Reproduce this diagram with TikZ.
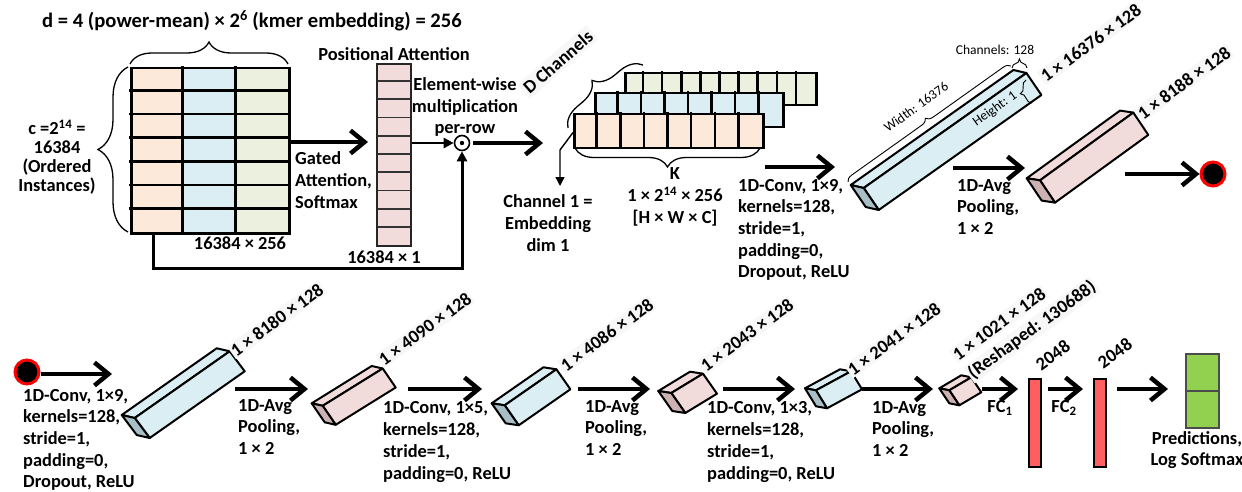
\documentclass[tikz,border=0pt]{standalone}
\usepackage{fontspec}
\setmainfont{Carlito}
\usetikzlibrary{arrows.meta,decorations.pathreplacing,calc}
\definecolor{corange}{HTML}{FDE9D9}
\definecolor{cblue}{HTML}{DAEEF3}
\definecolor{cgreen}{HTML}{EBF1DE}
\definecolor{cpink}{HTML}{F2DCDB}
\definecolor{cblueend}{HTML}{A9BFC7}
\definecolor{cpinkend}{HTML}{CDB2B2}
\definecolor{cred}{HTML}{FF5F5F}
\definecolor{cout}{HTML}{92D050}
\tikzset{
 lab/.style={font=\fontsize{18.4}{21.7}\selectfont\bfseries, inner sep=0pt, align=left},
 clab/.style={font=\fontsize{18.4}{21.7}\selectfont\bfseries, inner sep=0pt, align=center},
 dim/.style={font=\fontsize{18.4}{21}\selectfont\bfseries, rotate=36, anchor=base west, inner sep=1.5pt, fill=black!3},
 small/.style={font=\fontsize{13.5}{15}\selectfont, inner sep=0pt},
 bigarrow/.style={line width=4.5pt, -{Straight Barb[length=14pt,width=23pt]}},
 thinarrow/.style={line width=2.5pt, -{Triangle[length=10pt,width=10pt]}},
 cub/.style={line width=2pt, line join=round, draw=black},
 grid/.style={line width=2.5pt, line cap=rect},
 brc/.style={decorate, line width=1.3pt},
 redbar/.style={fill=cred, draw=black, line width=2pt, minimum width=12pt, minimum height=88pt, inner sep=0pt},
 redc/.style={circle, fill=black, draw=red, line width=3pt, minimum size=24pt, inner sep=0pt},
}
\newcommand\cuboid[9]{%
 \begin{scope}[shift={(#1,#2)}]
  \filldraw[cub,fill=#9] (0,0) -- (#3,#4) -- ({#3+#5},{#4+#6}) -- (#5,#6) -- cycle;
  \filldraw[cub,fill=#9] (#5,#6) -- ({#3+#5},{#4+#6}) -- ({#3+#5+#7},{#4+#6+#8}) -- ({#5+#7},{#6+#8}) -- cycle;
  \filldraw[cub,fill=#9end] (0,0) -- (#5,#6) -- ({#5+#7},{#6+#8}) -- (#7,#8) -- cycle;
 \end{scope}}
\begin{document}
\begin{tikzpicture}[x=1pt,y=-1pt]
\useasboundingbox (0,0) rectangle (1242,492);

% ---------- input matrix ----------
\fill[corange] (130,67) rectangle (182.67,232);
\fill[cblue] (182.67,67) rectangle (235.33,232);
\fill[cgreen] (235.33,67) rectangle (288,232);
\foreach \i in {1,...,6} \draw[grid] (130,{67+165/7*\i}) -- (288,{67+165/7*\i});
\draw[grid] (182.67,67) -- (182.67,232) (235.33,67) -- (235.33,232);
\node[draw, line width=2.5pt, minimum width=158pt, minimum height=165pt, inner sep=0pt, anchor=north west] (mat) at (130,67) {};
\coordinate (matout) at (153,232);

\draw[brc, decoration={brace, amplitude=22pt}] (130,64) -- (288,64);
\draw[brc, decoration={brace, amplitude=30pt}] (128,232) -- (128,67);
\node[clab, font=\fontsize{20.6}{24}\selectfont\bfseries] (title) at (252,21) {d = 4 (power-mean) × 2\textsuperscript{6} (kmer embedding) = 256};
\node[clab, font=\fontsize{18.4}{18.8}\selectfont\bfseries] (cdesc) at (57,157) {c =2\textsuperscript{14} =\\16384\\(Ordered\\Instances)};
\node[clab] (matdim) at (240,243) {16384 × 256};

% ---------- attention ----------
\coordinate (g1) at (290,142);
\coordinate (g2) at (368,142);
\draw[bigarrow] (g1) -- (g2);
\node[lab, anchor=west] (gated) at (295,180) {Gated\\Attention,\\Softmax};

\fill[cpink] (376,63) rectangle (410,245);
\foreach \i in {1,...,9} \draw[line width=1.8pt, draw=black!80] (376,{63+18.2*\i}) -- (410,{63+18.2*\i});
\node[draw=black!85, line width=2pt, minimum width=34pt, minimum height=182pt, inner sep=0pt, anchor=north west] (att) at (376,63) {};
\node[clab] (atttitle) at (394,54) {Positional Attention};
\node[clab] (attdim) at (384,257) {16384 × 1};

\node[circle, draw, line width=1.6pt, minimum size=15pt, inner sep=0pt] (odot) at (462,143) {};
\fill (odot.center) circle (2.2);
\draw[thinarrow] (att.east |- odot) -- (odot.west);
\draw[line width=3pt, -{Triangle[length=10pt,width=10pt]}] (matout) -- (153,268) -- (462,268) -- (odot.south);
\node[clab] (ewm) at (465,107) {Element-wise\\multiplication\\per-row};
\coordinate (o1) at (473,143);
\coordinate (o2) at (543,143);
\draw[bigarrow] (o1) -- (o2);

% ---------- channel stack ----------
\fill[cgreen] (624,72) rectangle (815,104);
\foreach \i in {1,...,9} \draw[grid] ({624+19.1*\i},72) -- ({624+19.1*\i},104);
\node[draw, line width=2.5pt, minimum width=191pt, minimum height=32pt, inner sep=0pt, anchor=north west] (chg) at (624,72) {};
\fill[cblue] (594,92) rectangle (782,126);
\foreach \i in {1,...,7} \draw[grid] ({594+23.5*\i},92) -- ({594+23.5*\i},126);
\node[draw, line width=2.5pt, minimum width=188pt, minimum height=34pt, inner sep=0pt, anchor=north west] (chb) at (594,92) {};
\fill[corange] (573,113) rectangle (762,147);
\foreach \i in {1,...,7} \draw[grid] ({573+23.625*\i},113) -- ({573+23.625*\i},147);
\node[draw, line width=2.5pt, minimum width=189pt, minimum height=34pt, inner sep=0pt, anchor=north west] (cho) at (573,113) {};

\draw[brc, decoration={brace, amplitude=21pt}] (568,128) -- (643,65);
\node[clab, rotate=41, fill=black!3, inner sep=3pt] (dch) at (558,62) {D Channels};
\draw[brc, decoration={brace, amplitude=19pt}] (760,148) -- (575,148);
\node[clab] (kdim) at (675,197) {K\\1 × 2\textsuperscript{14} × 256\\{[H × W × C]}};
\draw[line width=1.4pt, -{Triangle[length=9pt,width=9pt]}] (cho.south west) ++(0,-17) -- (560,150) -- (560,186);
\node[clab] (ch1) at (548,223) {Channel 1 =\\Embedding\\dim 1};

% ---------- first conv ----------
\coordinate (c1a) at (765,167);
\coordinate (c1b) at (835,167);
\draw[bigarrow] (c1a) -- (c1b);
\node[lab, anchor=west] (conv1) at (738,230) {1D-Conv, 1×9,\\kernels=128,\\stride=1,\\padding=0,\\Dropout, ReLU};

\cuboid{850.7}{185}{162.7}{-115}{13}{3}{15}{22}{cblue}
\draw[brc, line width=0.9pt, decoration={brace, amplitude=7pt}] (848,182) -- (1011,66);
\node[small, rotate=36] (wid) at (916,107) {Width: 16376};
\draw[brc, line width=0.9pt, decoration={brace, amplitude=9pt}] (1012,68) -- (1027,68);
\node[small] (chn) at (995,50) {Channels: 128};
\draw[brc, line width=0.9pt, decoration={brace, amplitude=9pt}] (1032,103) -- (1026,80);
\node[small, rotate=36] (hgt) at (995,109) {Height: 1};
\node[dim] (d1) at (1045,84) {1 × 16376 × 128};

\coordinate (p1a) at (953,168);
\coordinate (p1b) at (1025,168);
\draw[bigarrow] (p1a) -- (p1b);
\node[lab, anchor=west] (pool1) at (957,207) {1D-Avg\\Pooling,\\1 × 2};
\cuboid{1026.7}{178.3}{93.3}{-67.7}{13.3}{2}{15}{22.3}{cpink}
\node[dim] (d2) at (1142,121) {1 × 8188 × 128};

\node[redc] (rc1) at (1213,174) {};
\coordinate (r1a) at (1125,174);
\draw[bigarrow] (r1a) -- (rc1.west);

% ---------- bottom row ----------
\node[redc] (rc2) at (27,372) {};
\coordinate (b1b) at (112,374);
\draw[bigarrow] (rc2.east |- b1b) -- (b1b);
\node[lab, anchor=west] (conv2) at (23,440) {1D-Conv, 1×9,\\kernels=128,\\stride=1,\\padding=0,\\Dropout, ReLU};
\cuboid{121.7}{415}{95}{-66.7}{13}{3}{15}{20}{cblue}
\node[dim] (d3) at (235,358) {1 × 8180 × 128};

\coordinate (b2a) at (235,389); \coordinate (b2b) at (308,389);
\draw[bigarrow] (b2a) -- (b2b);
\node[lab, anchor=west] (pool2) at (238,427) {1D-Avg\\Pooling,\\1 × 2};
\cuboid{311.7}{403.3}{60}{-37.3}{11}{2.5}{13}{19}{cpink}
\node[dim] (d4) at (383,367) {1 × 4090 × 128};

\coordinate (b3a) at (408,389); \coordinate (b3b) at (482,389);
\draw[bigarrow] (b3a) -- (b3b);
\node[lab, anchor=west] (conv3) at (383,442) {1D-Conv, 1×5,\\kernels=128,\\stride=1,\\padding=0, ReLU};
\cuboid{491.7}{403.3}{51.7}{-36}{13}{2}{14}{20}{cblue}
\node[dim] (d5) at (565,373) {1 × 4086 × 128};

\coordinate (b4a) at (578,389); \coordinate (b4b) at (650,389);
\draw[bigarrow] (b4a) -- (b4b);
\node[lab, anchor=west] (pool3) at (585,428) {1D-Avg\\Pooling,\\1 × 2};
\cuboid{658.3}{391}{31.7}{-19.3}{13}{2}{14}{20}{cpink}
\node[dim] (d6) at (705,373) {1 × 2043 × 128};

\coordinate (b5a) at (723,389); \coordinate (b5b) at (795,389);
\draw[bigarrow] (b5a) -- (b5b);
\node[lab, anchor=west] (conv4) at (707,442) {1D-Conv, 1×3,\\kernels=128,\\stride=1,\\padding=0, ReLU};
\cuboid{805}{388.3}{35}{-19}{11}{2}{11}{18}{cblue}
\node[dim] (d7) at (852,377) {1 × 2041 × 128};

\coordinate (b6a) at (862,389); \coordinate (b6b) at (933,389);
\draw[bigarrow] (b6a) -- (b6b);
\node[lab, anchor=west] (pool4) at (872,429) {1D-Avg\\Pooling,\\1 × 2};
\cuboid{939.3}{388.3}{22}{-13}{10}{2}{10}{15}{cpink}
\node[dim] (d8) at (957,362) {1 × 1021 × 128};
\node[dim] (d8b) at (972,380) {(Reshaped: 130688)};

\node[redbar, anchor=north west] (fc1) at (1028,378) {};
\node[redbar, anchor=north west] (fc2) at (1093,378) {};
\coordinate (b7a) at (982,389); \coordinate (b7b) at (1018,389);
\draw[bigarrow] (b7a) -- (b7b);
\node[lab] (fc1l) at (1000,408) {FC\textsubscript{1}};
\node[dim, fill=none] (d9) at (1040,372) {2048};
\coordinate (b8a) at (1048,389); \coordinate (b8b) at (1083,389);
\draw[bigarrow] (b8a) -- (b8b);
\node[lab] (fc2l) at (1064,408) {FC\textsubscript{2}};
\node[dim, fill=none] (d10) at (1102,370) {2048};

\node[fill=cout, draw=black!70, line width=2pt, minimum width=33pt, minimum height=37pt, inner sep=0pt, anchor=north west] (out1) at (1185,353) {};
\node[fill=cout, draw=black!70, line width=2pt, minimum width=33pt, minimum height=37pt, inner sep=0pt, anchor=north west] (out2) at (1185,390) {};
\coordinate (b9a) at (1117,389); \coordinate (b9b) at (1168,389);
\draw[bigarrow] (b9a) -- (b9b);
\node[clab] (pred) at (1197,450) {Predictions,\\Log Softmax};
\end{tikzpicture}
\end{document}
